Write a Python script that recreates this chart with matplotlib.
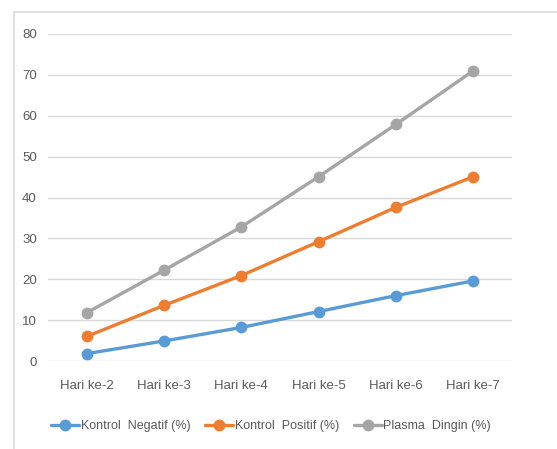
import matplotlib.pyplot as plt
from matplotlib.patches import Rectangle

# data
hari = ['Hari ke-2', 'Hari ke-3', 'Hari ke-4', 'Hari ke-5', 'Hari ke-6', 'Hari ke-7']
kontrol_negatif = [1.8, 4.9, 8.2, 12.1, 16.0, 19.6]
kontrol_positif = [6.0, 13.6, 20.9, 29.2, 37.6, 45.1]
plasma_dingin = [11.8, 22.2, 32.8, 45.1, 57.9, 71.0]

plt.rcParams['font.family'] = ['Liberation Sans', 'DejaVu Sans']

W, H = 557, 449
fig = plt.figure(figsize=(W / 100, H / 100), dpi=100)
fig.patch.set_facecolor('white')

# light outer frame
fig.patches.append(Rectangle((14 / W, -0.01), 1.0, (H - 12) / H + 0.01,
                             transform=fig.transFigure, fill=False,
                             edgecolor='#D9D9D9', linewidth=1.2))

ax = fig.add_axes([48 / W, (H - 361) / H, (512 - 48) / W, (361 - 34) / H])
x = range(len(hari))

series = [
    (kontrol_negatif, '#5B9BD5', 'Kontrol  Negatif (%)'),
    (kontrol_positif, '#ED7D31', 'Kontrol  Positif (%)'),
    (plasma_dingin, '#A5A5A5', 'Plasma  Dingin (%)'),
]
for vals, col, lab in series:
    ax.plot(x, vals, color=col, linewidth=2.4, marker='o', markersize=7.5,
            label=lab, solid_capstyle='round')

ax.set_ylim(0, 80)
ax.set_xlim(-0.5, len(hari) - 0.5)
ax.set_yticks(range(0, 81, 10))
ax.set_xticks(list(x))
ax.set_xticklabels(hari)
ax.yaxis.grid(True, color='#D9D9D9', linewidth=1)
ax.set_axisbelow(True)
for s in ax.spines.values():
    s.set_visible(False)
ax.tick_params(length=0, labelsize=9.5, colors='#595959')
ax.tick_params(axis='y', pad=8)
ax.tick_params(axis='x', pad=14)

fig.legend(loc='center', bbox_to_anchor=(0.487, (H - 426) / H), ncol=3,
           frameon=False, fontsize=9, handlelength=2.2, handletextpad=0.15,
           columnspacing=1.2, labelcolor='#595959')

fig.savefig('out.png', dpi=100)
